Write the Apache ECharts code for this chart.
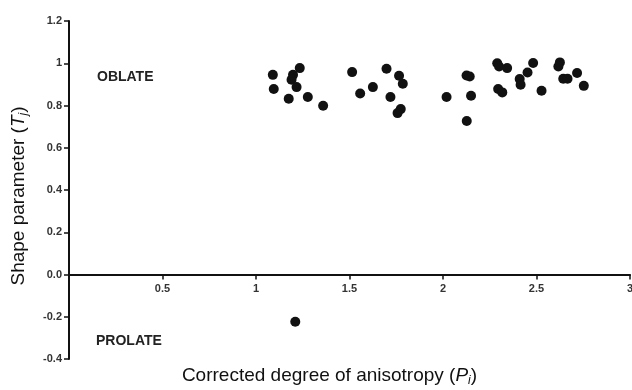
<!DOCTYPE html>
<html>
<head>
<meta charset="utf-8">
<script src="https://cdn.jsdelivr.net/npm/echarts@6/dist/echarts.min.js"></script>
<style>
  html, body { margin: 0; padding: 0; background: #fff; }
  #chart { width: 632px; height: 390px; }
</style>
</head>
<body>
<div id="chart"></div>
<script>
// corrected degree of anisotropy (Pj) vs shape parameter (Tj)
const oblatePj = [
  1.09, 1.095, 1.234, 1.198, 1.19, 1.217, 1.175, 1.277, 1.359,
  1.514, 1.557, 1.625, 1.698, 1.765, 1.785, 1.719, 1.774, 1.757,
  2.019, 2.126, 2.143, 2.15, 2.127,
  2.29, 2.30, 2.343, 2.295, 2.317, 2.41, 2.415, 2.452, 2.482, 2.527,
  2.625, 2.617, 2.643, 2.666, 2.717, 2.753,
];
const oblateTj = [
  0.945, 0.878, 0.977, 0.945, 0.922, 0.887, 0.832, 0.84, 0.799,
  0.958, 0.857, 0.887, 0.974, 0.941, 0.903, 0.84, 0.783, 0.764,
  0.84, 0.942, 0.937, 0.846, 0.727,
  1.0, 0.985, 0.977, 0.878, 0.862, 0.925, 0.898, 0.956, 1.001, 0.87,
  1.004, 0.985, 0.927, 0.927, 0.954, 0.893,
];
const prolatePj = [1.21];
const prolateTj = [-0.224];

const xTicks = [0.5, 1, 1.5, 2, 2.5, 3];
const yTicks = [-0.4, -0.2, 0, 0.2, 0.4, 0.6, 0.8, 1, 1.2];

const points = oblatePj.map((x, i) => [x, oblateTj[i]])
  .concat(prolatePj.map((x, i) => [x, prolateTj[i]]));

const labelFont = {
  color: "#333",
  fontFamily: "Liberation Sans",
  fontWeight: "bold",
  fontSize: 11,
};
const axisInk = { color: "#111", width: 2 };
const nameRich = {
  i: { fontStyle: "italic", fontSize: 19, fontFamily: "Liberation Sans", color: "#111" },
  sub: {
    fontStyle: "italic",
    fontSize: 12,
    fontFamily: "Liberation Sans",
    color: "#111",
    padding: [10, 0, 0, 0],
  },
};

// grid is 338px tall for 1.6 units, so y = 0 sits 0.4 / 1.6 of the way up
const gridTop = 21;
const gridBottom = 31;
const zeroOffset = -(390 - gridTop - gridBottom) * (0.4 / 1.6);

const chart = echarts.init(document.getElementById("chart"), null, { renderer: "canvas" });
chart.setOption({
  animation: false,
  backgroundColor: "#fff",
  grid: { left: 69, right: 2, top: gridTop, bottom: gridBottom, containLabel: false, outerBoundsMode: "none" },
  xAxis: {
    type: "value",
    position: "bottom",
    offset: zeroOffset,
    min: 0,
    max: 3,
    interval: 0.5,
    axisLine: { onZero: false, lineStyle: axisInk },
    axisTick: { show: true, length: 5, lineStyle: { color: "#111", width: 1.5 } },
    splitLine: { show: false },
    axisLabel: Object.assign({}, labelFont, {
      margin: 9,
      showMinLabel: false,
      formatter: (v) => (xTicks.includes(v) ? String(v) : ""),
    }),
    name: "Corrected degree of anisotropy ({i|P}{sub|i})",
    nameLocation: "middle",
    nameGap: 90,
    nameTextStyle: {
      fontFamily: "Liberation Sans",
      fontSize: 19,
      color: "#111",
      padding: [0, 40, 0, 0],
      rich: nameRich,
    },
  },
  yAxis: {
    type: "value",
    min: -0.4,
    max: 1.2,
    interval: 0.2,
    axisLine: { lineStyle: axisInk },
    axisTick: { show: true, length: 5, lineStyle: { color: "#111", width: 1.5 } },
    splitLine: { show: false },
    axisLabel: Object.assign({}, labelFont, {
      margin: 7,
      formatter: (v) => {
        const t = yTicks.find((k) => Math.abs(k - v) < 1e-6);
        if (t === undefined) return "";
        return t === 0 ? "0.0" : String(t);
      },
    }),
    name: "Shape parameter ({i|T}{sub|j})",
    nameLocation: "middle",
    nameGap: 39,
    nameTextStyle: {
      fontFamily: "Liberation Sans",
      fontSize: 19,
      color: "#111",
      padding: [0, 12, 0, 0],
      rich: nameRich,
    },
  },
  series: [
    {
      type: "scatter",
      data: points,
      symbol: "circle",
      symbolSize: 10,
      itemStyle: { color: "#111", opacity: 1 },
    },
  ],
  graphic: [
    {
      type: "text",
      left: 97,
      top: 70,
      style: {
        text: "OBLATE",
        font: "bold 14px 'Liberation Sans'",
        fill: "#222",
      },
    },
    {
      type: "text",
      left: 96,
      top: 334,
      style: {
        text: "PROLATE",
        font: "bold 14px 'Liberation Sans'",
        fill: "#222",
      },
    },
  ],
});
</script>
</body>
</html>
